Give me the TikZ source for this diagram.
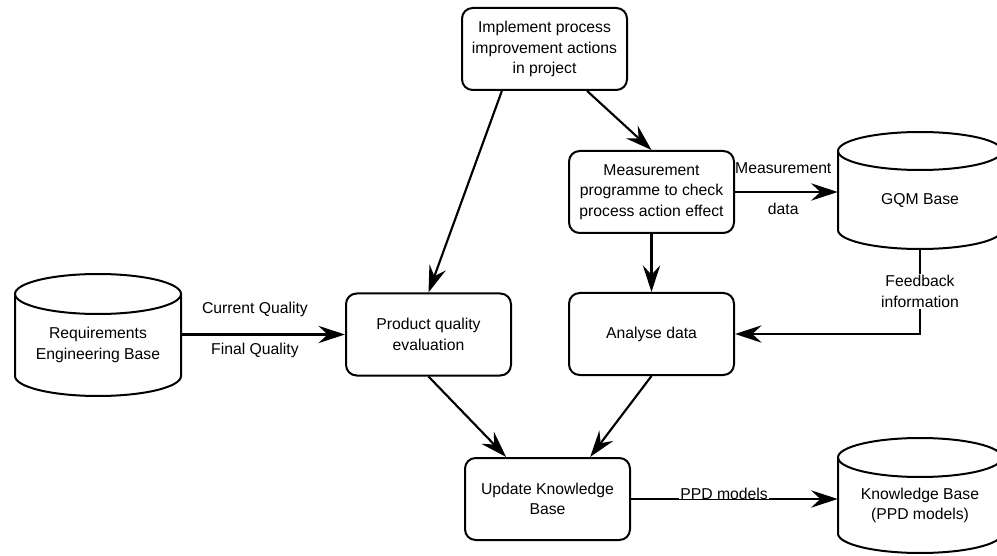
\documentclass[tikz,border=0pt]{standalone}
\usepackage{fontspec}
\setmainfont{Liberation Sans}
\usetikzlibrary{arrows.meta,calc}

% Database drum: body node #1 centred below the lid, lid ellipse and rounded base
% #2 = centre x, #3 = top y, #4 = bottom y, #5 = x radius, #6 = y radius, #7 = text
\newcommand\drum[7]{%
  \node[drumbody, minimum width={2*#5*0.75pt}, minimum height={(#4-#3-#6)*0.75pt}]
    (#1) at (#2,{-(#3+#6+#4)/2}) {#7};
  \draw[outline] (#2,{-(#3+#6)}) ellipse [x radius=#5, y radius=#6];
  \draw[outline] ({#2-#5},{-(#3+#6)}) -- ({#2-#5},{-(#4-#6)})
    arc [start angle=180, end angle=360, x radius=#5, y radius=#6]
    -- ({#2+#5},{-(#3+#6)});
}

\begin{document}
\begin{tikzpicture}[x=0.75pt,y=0.75pt,
  outline/.style={line width=1.5pt},
  box/.style={outline, draw, rounded corners=8pt, minimum width=123.75pt,
              minimum height=61.5pt, align=center, inner sep=2pt},
  drumbody/.style={inner sep=0pt, align=center},
  flow/.style={line width=1.6pt, -{Stealth[length=20pt,width=13pt,inset=7pt]}},
  lbl/.style={align=center, inner sep=1pt},
  font=\fontsize{11.8}{15.4}\selectfont]

\useasboundingbox (0,0) rectangle (997,-556);
\clip (0,0) rectangle (997,-556);

% process steps
\node[box] (impl) at (544.5,-49)  {Implement process\\improvement actions\\in project};
\node[box] (meas) at (651.5,-192) {Measurement\\programme to check\\process action effect};
\node[box] (prod) at (428.5,-334.5) {Product quality\\evaluation};
\node[box] (anal) at (651.5,-334) {Analyse data};
\node[box] (upd)  at (547.5,-499) {Update Knowledge\\Base};

% data stores
\drum{req}{98}{274}{396}{83}{20}{Requirements\\Engineering Base}
\drum{gqm}{920}{132}{249}{82}{19}{GQM Base}
\drum{kb}{920}{438}{553}{82}{19.5}{Knowledge Base\\(PPD models)}

% flows
\draw[flow] ([xshift=-32pt]impl.south) -- (prod.north);
\draw[flow] ([xshift=32pt]impl.south) -- (meas.north);
\draw[flow] (meas.south) -- (anal.north);
\draw[flow] (prod.south) -- ([xshift=-31pt]upd.north);
\draw[flow] (anal.south) -- ([xshift=32pt]upd.north);

\draw[flow] (req.east |- prod.west) -- (prod.west)
  node[lbl, pos=0.45, yshift=18.75pt] {Current Quality}
  node[lbl, pos=0.45, yshift=-12pt] {Final Quality};

\draw[flow] (meas.east) -- (meas.east -| gqm.west)
  node[lbl, pos=0.47, yshift=18pt] {Measurement}
  node[lbl, pos=0.47, yshift=-12.75pt] {data};

\draw[flow] (gqm.south) |- (anal.east)
  node[lbl, pos=0.25, fill=white] {Feedback\\information};

\draw[flow] (upd.east) -- (upd.east -| kb.west)
  node[pos=0.45, anchor=base, fill=white, inner xsep=1pt, inner ysep=0pt] {PPD models};

\end{tikzpicture}
\end{document}
